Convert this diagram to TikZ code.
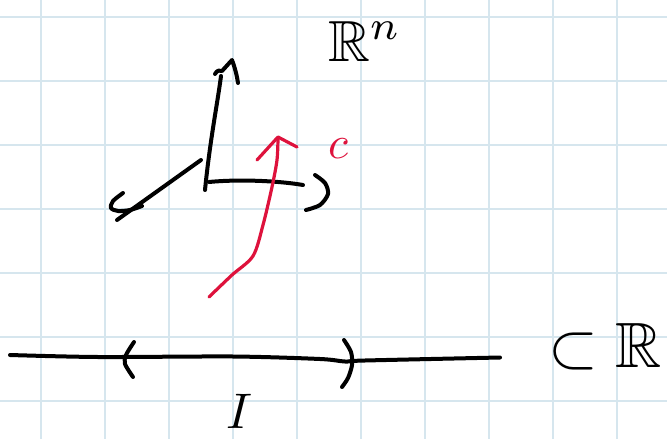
\documentclass[tikz,border=0pt]{standalone}
\usepackage{amssymb}
\definecolor{gridblue}{RGB}{214,230,238}
\definecolor{inkred}{RGB}{222,18,60}
\begin{document}
\begin{tikzpicture}[x=1pt,y=-1pt,line cap=round,line join=round,
  pen/.style={line width=4pt,draw=black},
  redpen/.style={line width=3.2pt,draw=inkred},
  gridline/.style={line width=1.3pt,draw=gridblue},
  lbl/.style={inner sep=0pt,outer sep=0pt}]
\useasboundingbox (0,0) rectangle (667,439);
\fill[white] (0,0) rectangle (667,439);
% grid
\foreach \x in {41,105,...,617} \draw[gridline] (\x,0) -- (\x,439);
\foreach \y in {17,81,...,401} \draw[gridline] (0,\y) -- (667,\y);
% real line with interval
\draw[pen] plot[smooth] coordinates {(10,355) (98,357) (233,356.5) (320,359) (345,361.5) (365,360.5) (500,357.5)};
\draw[pen] plot[smooth] coordinates {(134,342) (126,355) (125,364) (133,377)};
\draw[pen] plot[smooth] coordinates {(344,340) (351,352) (352,365) (348,378) (342,387)};
% axes
\draw[pen] (205,190) .. controls (210,140) and (218,100) .. (221,76);
\draw[pen] (215,74) .. controls (217,70) and (220,70) .. (222,71) -- (232,60) .. controls (235,68) and (237,76) .. (238,83);
\draw[pen] (209,182) .. controls (240,179) and (280,181) .. (303,185);
\draw[pen] plot[smooth] coordinates {(315,175) (325,183) (328,194) (320,205) (306,210)};
\draw[pen] (201,160) -- (117,220);
\draw[pen] plot[smooth] coordinates {(123,193) (113,201) (111,208) (118,211) (130,210) (142,206)};
% curve c
\draw[redpen] plot[smooth] coordinates {(209,297) (232,275) (253,256) (263,225) (272,187) (277,160) (278,138)};
\draw[redpen] (257,160) -- (278,137) -- (297,147);
% labels
\node[lbl,anchor=base west,scale=5.8] (Rn) at (328,61) {$\mathbb{R}^n$};
\node[lbl,anchor=base west,text=inkred,scale=4.6] (c) at (328,158) {$c$};
\node[lbl,anchor=base west,scale=6.4] (subR) at (548,367) {$\subset\mathbb{R}$};
\node[lbl,anchor=base,scale=5] (I) at (239,428) {$I$};
\end{tikzpicture}
\end{document}
